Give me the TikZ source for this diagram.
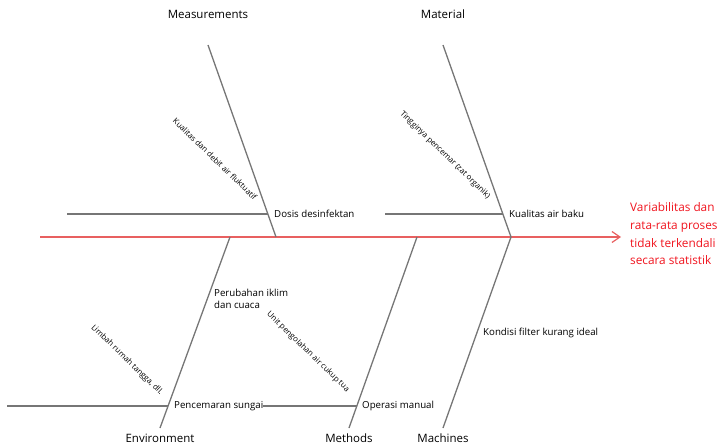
\documentclass[tikz,border=0pt]{standalone}
\usepackage{fontspec}
\setmainfont{Open Sans}
\usetikzlibrary{arrows.meta}
\definecolor{bone}{RGB}{118,118,118}
\definecolor{spine}{RGB}{232,96,96}
\definecolor{effect}{RGB}{240,20,30}
\tikzset{
  bonestyle/.style={draw=bone, line width=1.3pt},
  catlabel/.style={font=\fontsize{11.5}{13}\selectfont, inner sep=1pt},
  causelabel/.style={font=\fontsize{9.7}{11}\selectfont, anchor=west, inner sep=1pt},
  diaglabel/.style={font=\fontsize{7.9}{9}\selectfont, rotate=-44, inner sep=0pt},
}
\begin{document}
\begin{tikzpicture}[x=1pt,y=-1pt]
\useasboundingbox (0,0) rectangle (726,447);
% spine
\coordinate (tail) at (40,237);
\coordinate (head) at (621,237);
\draw[draw=spine, line width=1.2pt, -{Straight Barb[length=8pt,width=11pt,line width=1.2pt]}] (tail) -- (head);
\node[font=\fontsize{11.8}{17.7}\selectfont, text=effect, align=left, anchor=west, inner sep=0pt] (effect) at (630,234)
  {Variabilitas dan\\rata-rata proses\\tidak terkendali\\secara statistik};
% category labels
\node[catlabel] (meas) at (208,14) {Measurements};
\node[catlabel] (mat) at (443,14) {Material};
\node[catlabel] (env) at (160,438) {Environment};
\node[catlabel] (meth) at (349,438) {Methods};
\node[catlabel] (mach) at (443,438) {Machines};
% bone ends
\coordinate (measT) at (208,45);  \coordinate (measB) at (276,237);
\coordinate (matT) at (443,45);   \coordinate (matB) at (511,237);
\coordinate (envT) at (230,237);  \coordinate (envB) at (160,428);
\coordinate (methT) at (417,237); \coordinate (methB) at (349,428);
\coordinate (machT) at (511,237); \coordinate (machB) at (443,428);
\draw[bonestyle] (measT) -- (measB);
\draw[bonestyle] (matT) -- (matB);
\draw[bonestyle] (envT) -- (envB);
\draw[bonestyle] (methT) -- (methB);
\draw[bonestyle] (machT) -- (machB);
% sub-bones
\coordinate (s1a) at (67,214);  \coordinate (s1b) at (268,214);
\coordinate (s2a) at (385,214); \coordinate (s2b) at (503,214);
\coordinate (s3a) at (7,406);   \coordinate (s3b) at (168,406);
\coordinate (s4a) at (263,406); \coordinate (s4b) at (357,406);
\draw[bonestyle] (s1a) -- (s1b);
\draw[bonestyle] (s2a) -- (s2b);
\draw[bonestyle] (s3a) -- (s3b);
\draw[bonestyle] (s4a) -- (s4b);
% cause labels
\node[causelabel] (c1) at (273,214) {Dosis desinfektan};
\node[causelabel] (c2) at (508,214) {Kualitas air baku};
\node[causelabel] (c3) at (173,406) {Pencemaran sungai};
\node[causelabel] (c4) at (361,406) {Operasi manual};
\node[causelabel] (c5) at (482,333) {Kondisi filter kurang ideal};
\node[causelabel, align=left, font=\fontsize{9.7}{12}\selectfont] (c6) at (213,299) {Perubahan iklim\\dan cuaca};
% diagonal labels
\node[diaglabel] (d1) at (215,159) {Kualitas dan debit air fluktuatif};
\node[diaglabel] (d2) at (445,155) {Tingginya pencemar (zat organik)};
\node[diaglabel] (d3) at (127,360) {Limbah rumah tangga, dll.};
\node[diaglabel] (d4) at (308,352) {Unit pengolahan air cukup tua};
\end{tikzpicture}
\end{document}
